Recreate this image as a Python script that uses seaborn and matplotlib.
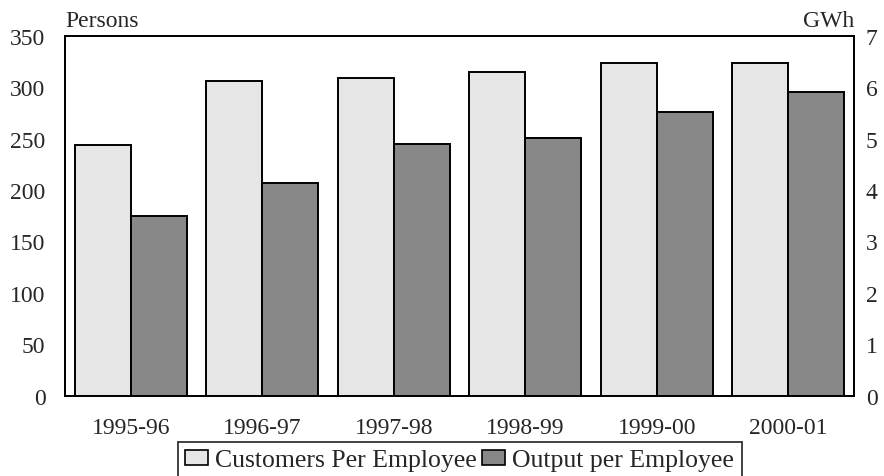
import pandas as pd
import matplotlib
matplotlib.use("Agg")
import matplotlib.pyplot as plt
import seaborn as sns
from matplotlib.patches import Patch

# Data
years = ["1995-96", "1996-97", "1997-98", "1998-99", "1999-00", "2000-01"]
customers_per_employee = [244, 306, 309, 315, 323, 323]      # persons (left axis)
output_per_employee = [3.50, 4.13, 4.90, 5.02, 5.52, 5.91]   # GWh (right axis)

series = ["Customers Per Employee", "Output per Employee"]
colors = {"Customers Per Employee": "#e6e6e6", "Output per Employee": "#888888"}

left_ticks = [0, 50, 100, 150, 200, 250, 300, 350]
right_ticks = [0, 1, 2, 3, 4, 5, 6, 7]

sns.set_style("white")
plt.rcParams["font.family"] = ["Liberation Serif", "DejaVu Serif"]
plt.rcParams["font.size"] = 17

df_left = pd.DataFrame({"year": years, "value": customers_per_employee, "series": series[0]})
df_right = pd.DataFrame({"year": years, "value": output_per_employee, "series": series[1]})

fig = plt.figure(figsize=(8.84, 4.77), dpi=100)
ax = fig.add_axes([0.0735, 0.1683, 0.8925, 0.7547])
ax2 = ax.twinx()

bar_kw = dict(x="year", y="value", hue="series", hue_order=series, palette=colors,
              order=years, width=0.85, dodge=True, legend=False,
              edgecolor="black", linewidth=1.4, saturation=1, errorbar=None)
sns.barplot(data=df_left, ax=ax, **bar_kw)
sns.barplot(data=df_right, ax=ax2, **bar_kw)

ax.set_xlim(-0.5, len(years) - 0.5)
ax.set_ylim(0, 350)
ax2.set_ylim(0, 7)
ax.set_yticks(left_ticks)
ax2.set_yticks(right_ticks)
ax.set_xlabel("")
ax.set_ylabel("")
ax2.set_ylabel("")

ax.tick_params(axis="y", length=0, pad=14)
ax.tick_params(axis="x", length=0, pad=15)
ax2.tick_params(axis="y", length=0, pad=8.5)

for a in (ax, ax2):
    for sp in a.spines.values():
        sp.set_visible(True)
        sp.set_color("black")
        sp.set_linewidth(1.3)

ax.text(0, 1.012, "Persons", transform=ax.transAxes, ha="left", va="bottom")
ax.text(1, 1.012, "GWh", transform=ax.transAxes, ha="right", va="bottom")

handles = [Patch(facecolor=colors[s], edgecolor="black", linewidth=1.2) for s in series]
leg = fig.legend(handles, series, loc="upper center", bbox_to_anchor=(0.52, 0.072),
                 ncol=2, frameon=True, fancybox=False, edgecolor="black",
                 fontsize=18.5, handlelength=0.9, handleheight=0.5, handletextpad=0.27,
                 columnspacing=0.2, borderpad=0.3, borderaxespad=0)
leg.get_frame().set_linewidth(1.3)

fig.savefig("out.png", dpi=100)
